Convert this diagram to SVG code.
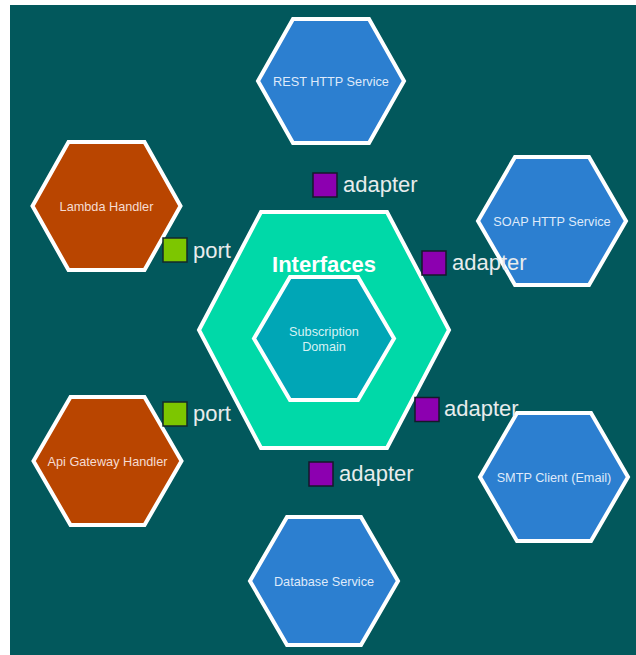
<svg xmlns="http://www.w3.org/2000/svg" width="636" height="655" viewBox="0 0 636 655">
<style>
.hex{stroke:#ffffff;stroke-width:4;stroke-linejoin:miter}
.blue{fill:#2c7fd0}
.orange{fill:#b94500}
.lbl{font-family:"Liberation Sans",Arial,sans-serif;font-size:12.7px;text-anchor:middle}
.lblb{fill:#dfeafa}
.lblo{fill:#f6dcd2}
.tag{font-family:"Liberation Sans",Arial,sans-serif;font-size:22px;fill:#e8ecec}
.port{fill:#7dc600;stroke:#15282a;stroke-width:1.5}
.adp{fill:#8c00b0;stroke:#15182a;stroke-width:1.5}
</style>
<rect x="0" y="0" width="636" height="655" fill="#ffffff"/>
<rect x="10" y="5" width="626" height="650" fill="#02585c"/>
<g id="connectors"></g>
<g id="interfaces">
<polygon class="hex" fill="#00d9a8" points="199,330 261,212 387,212 449,330 387,448 261,448"/>
<text x="324" y="272" text-anchor="middle" font-family="Liberation Sans,Arial,sans-serif" font-size="22" font-weight="bold" fill="#ffffff">Interfaces</text>
</g>
<g id="domain">
<polygon class="hex" fill="#00a6b6" points="254,338.5 290,277 358,277 394,338.5 358,400 290,400"/>
<text class="lbl" x="324" y="336" fill="#d6f2f4">Subscription</text>
<text class="lbl" x="324" y="351" fill="#d6f2f4">Domain</text>
</g>
<g id="rest">
<polygon class="hex blue" points="258,81 293,19 369,19 404,81 369,143 293,143"/>
<text class="lbl lblb" x="331" y="85.5">REST HTTP Service</text>
</g>
<g id="lambda">
<polygon class="hex orange" points="32.5,206 68.5,142 144.5,142 180.5,206 144.5,270 68.5,270"/>
<text class="lbl lblo" x="106.5" y="210.5">Lambda Handler</text>
</g>
<g id="apigw">
<polygon class="hex orange" points="33.5,461 70.5,397 144.5,397 181.5,461 144.5,525 70.5,525"/>
<text class="lbl lblo" x="107.5" y="465.5">Api Gateway Handler</text>
</g>
<g id="soap">
<polygon class="hex blue" points="478,221 515,157 589,157 626,221 589,285 515,285"/>
<text class="lbl lblb" x="552" y="225.5">SOAP HTTP Service</text>
</g>
<g id="smtp">
<polygon class="hex blue" points="480,477 517,413 591,413 628,477 591,541 517,541"/>
<text class="lbl lblb" x="554" y="481.5">SMTP Client (Email)</text>
</g>
<g id="database">
<polygon class="hex blue" points="250,581 287,517 361,517 398,581 361,645 287,645"/>
<text class="lbl lblb" x="324" y="585.5">Database Service</text>
</g>
<g id="port-top">
<rect class="port" x="163" y="238" width="24" height="24"/>
<text class="tag" x="193" y="258">port</text>
</g>
<g id="port-bottom">
<rect class="port" x="163" y="402" width="24" height="24"/>
<text class="tag" x="193" y="421">port</text>
</g>
<g id="adapter-top">
<rect class="adp" x="313" y="173" width="24" height="24"/>
<text class="tag" x="343" y="191.5">adapter</text>
</g>
<g id="adapter-right-top">
<rect class="adp" x="422" y="251" width="24" height="24"/>
<text class="tag" x="452" y="270">adapter</text>
</g>
<g id="adapter-right-bottom">
<rect class="adp" x="415" y="397.5" width="24" height="24"/>
<text class="tag" x="444" y="416">adapter</text>
</g>
<g id="adapter-bottom">
<rect class="adp" x="309" y="462" width="24" height="24"/>
<text class="tag" x="339" y="481">adapter</text>
</g>
</svg>
